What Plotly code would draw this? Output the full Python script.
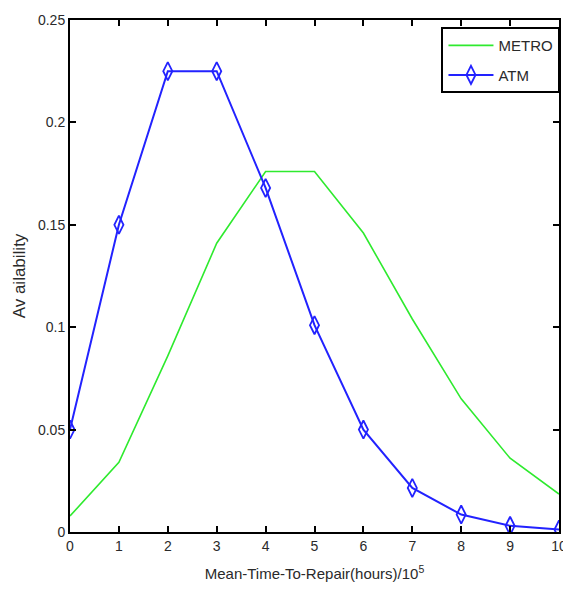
import plotly.graph_objects as go

# Eixo X: tempo médio de reparo (x 10^5 horas)
mttr = [0, 1, 2, 3, 4, 5, 6, 7, 8, 9, 10]

# Disponibilidade
metro = [0.0078, 0.034, 0.086, 0.141, 0.176, 0.176, 0.146, 0.104, 0.065, 0.036, 0.0185]
atm = [0.050, 0.150, 0.225, 0.225, 0.168, 0.101, 0.050, 0.0215, 0.0085, 0.0030, 0.0012]

y_ticks = [0, 0.05, 0.1, 0.15, 0.2, 0.25]
y_tick_text = ["0", "0.05", "0.1", "0.15", "0.2", "0.25"]

FONTE = "Liberation Sans, Arial, sans-serif"
COR_TEXTO = "#2a2a2a"

fig = go.Figure()

fig.add_trace(
    go.Scatter(
        x=mttr,
        y=metro,
        mode="lines",
        name="METRO",
        legendgroup="metro",
        line=dict(color="#2EEA2E", width=1.6),
    )
)

fig.add_trace(
    go.Scatter(
        x=mttr,
        y=atm,
        mode="lines+markers",
        name="ATM",
        legendgroup="atm",
        line=dict(color="#2222FF", width=2),
        marker=dict(
            symbol="diamond-tall-open",
            size=13,
            color="#2222FF",
            line=dict(width=1.8, color="#2222FF"),
        ),
    )
)

# a página tem margem de 8px no body, por isso a figura é 8px menor
fig.update_layout(
    width=563,
    height=581,
    paper_bgcolor="white",
    plot_bgcolor="white",
    margin=dict(l=62, r=4, t=12, b=57),
    font=dict(family=FONTE, size=14, color=COR_TEXTO),
    showlegend=True,
    legend=dict(
        x=1.003,
        y=0.986,
        xanchor="right",
        yanchor="top",
        bgcolor="white",
        bordercolor="black",
        borderwidth=2,
        font=dict(family=FONTE, size=15, color=COR_TEXTO),
        traceorder="grouped",
        tracegroupgap=7,
        itemwidth=45,
    ),
    xaxis=dict(
        range=[0, 10],
        tickvals=mttr,
        ticks="inside",
        ticklen=6,
        tickwidth=1.5,
        tickcolor="black",
        ticklabeloverflow="allow",
        tickfont=dict(family=FONTE, size=14, color=COR_TEXTO),
        showline=True,
        linecolor="black",
        linewidth=2,
        mirror="ticks",
        showgrid=False,
        zeroline=False,
        title=dict(
            text="Mean-Time-To-Repair(hours)/10<sup>5</sup>",
            font=dict(family=FONTE, size=15, color=COR_TEXTO),
            standoff=16,
        ),
    ),
    yaxis=dict(
        range=[0, 0.25],
        tickvals=y_ticks,
        ticktext=y_tick_text,
        ticks="inside",
        ticklen=6,
        tickwidth=1.5,
        tickcolor="black",
        tickfont=dict(family=FONTE, size=14, color=COR_TEXTO),
        showline=True,
        linecolor="black",
        linewidth=2,
        mirror="ticks",
        showgrid=False,
        zeroline=False,
        title=dict(
            text="Av ailability",
            font=dict(family=FONTE, size=17, color=COR_TEXTO),
            standoff=8,
        ),
    ),
)

fig.write_html("out.html")
